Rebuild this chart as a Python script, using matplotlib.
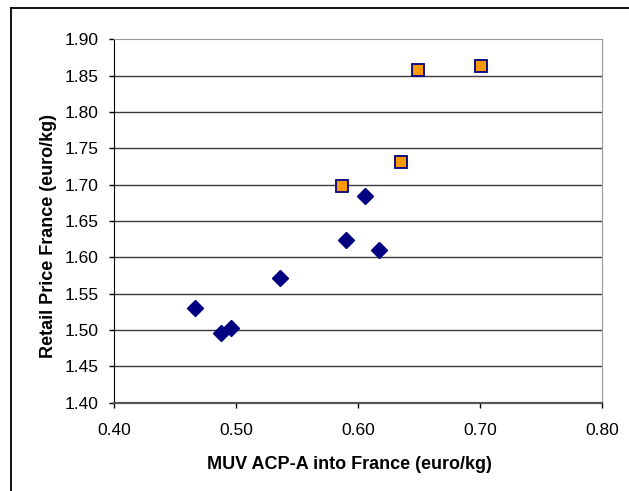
import numpy as np
import matplotlib
matplotlib.use('Agg')
import matplotlib.pyplot as plt
from matplotlib.lines import Line2D

# data
muv_diamond = [0.466, 0.488, 0.496, 0.536, 0.590, 0.606, 0.617]
price_diamond = [1.530, 1.495, 1.502, 1.572, 1.623, 1.684, 1.610]

muv_square = [0.587, 0.635, 0.649, 0.701]
price_square = [1.698, 1.731, 1.857, 1.863]

xticks = [0.40, 0.50, 0.60, 0.70, 0.80]
yticks = [1.40, 1.45, 1.50, 1.55, 1.60, 1.65, 1.70, 1.75, 1.80, 1.85, 1.90]

plt.rcParams['font.family'] = ['Liberation Sans', 'DejaVu Sans']

fig = plt.figure(figsize=(6.29, 4.91), dpi=100)
ax = fig.add_axes([0.1812, 0.1802, 0.7764, 0.740])

# frame lines around the chart (top and left only, as in the reference)
fig.add_artist(Line2D([11/629, 1], [1 - 8/491, 1 - 8/491], transform=fig.transFigure, color='black', lw=1.3))
fig.add_artist(Line2D([11/629, 11/629], [0, 1 - 8/491], transform=fig.transFigure, color='black', lw=1.3))

for y in yticks[1:-1]:
    ax.axhline(y, color='#3a3a3a', lw=1.0, zorder=1)

ax.plot(muv_diamond, price_diamond, linestyle='none', marker='D', ms=7.8,
        color='#000080', mec='#000080', zorder=3)
ax.plot(muv_square, price_square, linestyle='none', marker='s', ms=8.8,
        mfc='#FF9900', mec='#000080', mew=1.3, zorder=3)

ax.set_xlim(0.40, 0.80)
ax.set_ylim(1.40, 1.90)
ax.set_xticks(xticks)
ax.set_yticks(yticks)
ax.set_xticklabels(['%.2f' % v for v in xticks], fontsize=12.5)
ax.set_yticklabels(['%.2f' % v for v in yticks], fontsize=12.5)
ax.tick_params(axis='both', direction='out', length=3.6, width=1, colors='black')
ax.tick_params(axis='x', pad=11)
ax.tick_params(axis='y', pad=7.5)

ax.spines['top'].set_color('#999999')
ax.spines['right'].set_color('#999999')
ax.spines['left'].set_color('black')
ax.spines['bottom'].set_color('#555555')
ax.spines['bottom'].set_linewidth(1.6)

ax.set_xlabel('MUV ACP-A into France (euro/kg)', fontsize=13, fontweight='bold')
ax.set_ylabel('Retail Price France (euro/kg)', fontsize=13, fontweight='bold')
ax.xaxis.set_label_coords(0.482, -0.146)
ax.yaxis.set_label_coords(-0.117, 0.459)

plt.savefig('out.png', dpi=100)
plt.close()
